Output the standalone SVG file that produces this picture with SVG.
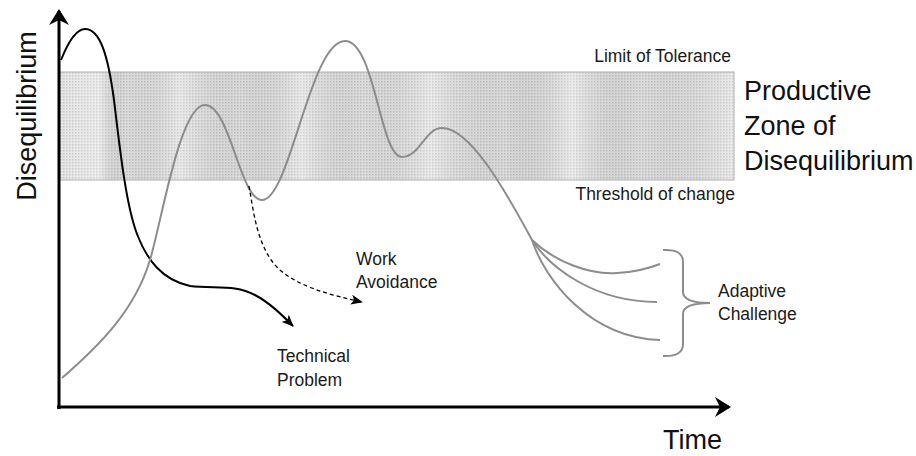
<svg xmlns="http://www.w3.org/2000/svg" width="916" height="456" viewBox="0 0 916 456">
  <style>
    .lbl { font-family: "Liberation Sans", Arial, sans-serif; font-size: 17.5px; fill: #1a1a1a; }
    .big { font-family: "Liberation Sans", Arial, sans-serif; font-size: 27px; fill: #111; }
    .axis { stroke: #000; stroke-width: 3; fill: none; }
    .gray { stroke: #8c8c8c; stroke-width: 2; fill: none; }
    .black { stroke: #000; stroke-width: 2; fill: none; }
    .dash { stroke: #000; stroke-width: 1.3; fill: none; stroke-dasharray: 4 3; }
  </style>
  <defs>
    <pattern id="dots" width="3" height="3" patternUnits="userSpaceOnUse">
      <rect width="3" height="3" fill="#e6e6e6"/>
      <rect width="1.5" height="1.5" fill="#c4c4c4"/>
    </pattern>
    <linearGradient id="stripes" x1="0" y1="0" x2="1" y2="0">
      <stop offset="0" stop-color="#ffffff" stop-opacity="0"/>
      <stop offset="0.06" stop-color="#ffffff" stop-opacity="0.25"/>
      <stop offset="0.1" stop-color="#000000" stop-opacity="0.04"/>
      <stop offset="0.18" stop-color="#ffffff" stop-opacity="0.2"/>
      <stop offset="0.27" stop-color="#000000" stop-opacity="0.05"/>
      <stop offset="0.36" stop-color="#ffffff" stop-opacity="0.22"/>
      <stop offset="0.45" stop-color="#000000" stop-opacity="0.04"/>
      <stop offset="0.55" stop-color="#ffffff" stop-opacity="0.2"/>
      <stop offset="0.66" stop-color="#000000" stop-opacity="0.05"/>
      <stop offset="0.76" stop-color="#ffffff" stop-opacity="0.25"/>
      <stop offset="0.86" stop-color="#000000" stop-opacity="0.04"/>
      <stop offset="1" stop-color="#ffffff" stop-opacity="0.2"/>
    </linearGradient>
    <marker id="axisHead" viewBox="0 0 16 20" markerWidth="16" markerHeight="20" refX="14" refY="10" orient="auto" markerUnits="userSpaceOnUse">
      <path d="M0,0 L16,10 L0,20 L5,10 z" fill="#000"/>
    </marker>
    <marker id="head" viewBox="0 0 12 10" markerWidth="12" markerHeight="10" refX="11" refY="5" orient="auto" markerUnits="userSpaceOnUse">
      <path d="M0,0 L12,5 L0,10 L3,5 z" fill="#000"/>
    </marker>
  </defs>

  <!-- productive zone band -->
  <g id="zone">
    <rect x="59" y="72" width="675" height="108" fill="url(#dots)"/>
    <rect x="59" y="72" width="675" height="108" fill="url(#stripes)" stroke="#b0b0b0" stroke-width="1"/>
  </g>

  <!-- axes -->
  <g id="axes">
    <path class="axis" d="M59,409 L59,11" marker-end="url(#axisHead)"/>
    <path class="axis" d="M57,407 L729,407" marker-end="url(#axisHead)"/>
  </g>

  <!-- curves -->
  <g id="connectors">
    <path id="technical" class="black" d="M61,60 C67,45 75,29 85,29 C100,29 108,55 114,100 C120,150 126,205 137,234 C147,260 162,280 190,286 C215,289 235,284 255,295 C270,303 282,315 293,326" marker-end="url(#head)"/>
    <path id="adaptive" class="gray" d="M62,378 C100,345 135,310 150,260 C162,220 180,105 205,105 C230,105 240,200 262,200 C290,200 310,41 345,41 C375,41 380,157 402,157 C420,157 425,128 442,128 C470,128 505,190 532,240"/>
    <path class="gray" d="M532,240 C555,262 590,275 617,273 C635,272 650,268 660,264"/>
    <path class="gray" d="M532,240 C550,268 595,302 657,302"/>
    <path class="gray" d="M532,240 C545,280 590,338 660,340"/>
    <path id="avoidance" class="dash" d="M249,186 C254,215 258,250 280,270 C300,287 330,295 362,302" marker-end="url(#head)"/>
    <path id="brace" class="gray" d="M663,250 Q683,249 683,262 L683,292 Q683,303 710,303 Q683,303 683,314 L683,344 Q683,357 663,356"/>
  </g>

  <!-- labels -->
  <g id="labels">
    <text class="big" transform="translate(36,116) rotate(-90)" text-anchor="middle">Disequilibrium</text>
    <text class="lbl" x="731" y="62" text-anchor="end">Limit of Tolerance</text>
    <text class="lbl" x="735" y="200" text-anchor="end">Threshold of change</text>
    <text class="big" x="744" y="100">Productive</text>
    <text class="big" x="744" y="135">Zone of</text>
    <text class="big" x="744" y="170">Disequilibrium</text>
    <text class="lbl" x="356" y="265">Work</text>
    <text class="lbl" x="356" y="288">Avoidance</text>
    <text class="lbl" x="277" y="362">Technical</text>
    <text class="lbl" x="277" y="386">Problem</text>
    <text class="lbl" x="718" y="297">Adaptive</text>
    <text class="lbl" x="718" y="320">Challenge</text>
    <text class="big" x="663" y="449">Time</text>
  </g>
</svg>
